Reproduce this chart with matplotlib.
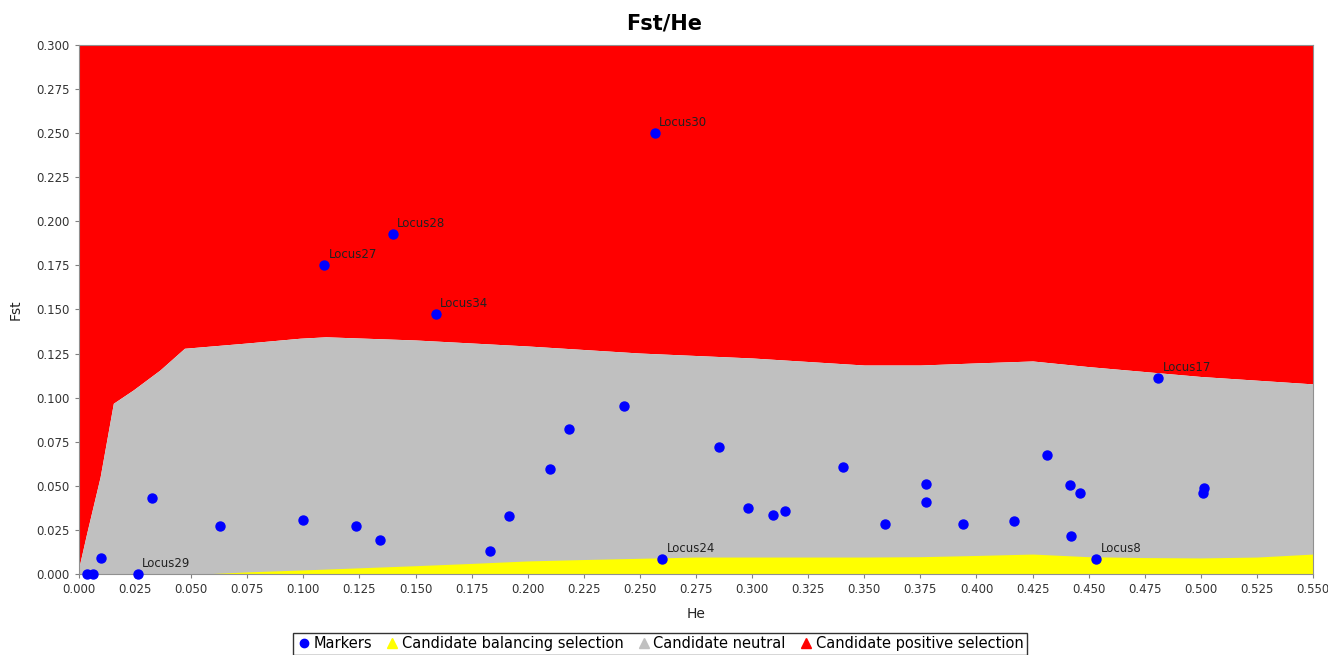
import matplotlib
matplotlib.use("Agg")
import matplotlib.pyplot as plt
from matplotlib.lines import Line2D

# Markers (He, Fst)
he = [0.0034, 0.0064, 0.0098, 0.0261, 0.0327, 0.0628, 0.0997, 0.1093, 0.1233,
      0.1342, 0.1398, 0.1590, 0.1833, 0.1915, 0.2098, 0.2184, 0.2428, 0.2567,
      0.2600, 0.2851, 0.2983, 0.3095, 0.3146, 0.3405, 0.3592, 0.3774, 0.3776,
      0.3941, 0.4166, 0.4314, 0.4415, 0.4422, 0.4463, 0.4535, 0.4811, 0.5011,
      0.5016]
fst = [0.0, 0.0, 0.0092, 0.0, 0.0433, 0.0272, 0.0306, 0.1753, 0.0272,
       0.0193, 0.1928, 0.1473, 0.0129, 0.0329, 0.0597, 0.0821, 0.0955, 0.2500,
       0.0087, 0.0719, 0.0376, 0.0333, 0.0357, 0.0605, 0.0284, 0.0510, 0.0408,
       0.0285, 0.0302, 0.0675, 0.0503, 0.0217, 0.0461, 0.0087, 0.1110, 0.0458,
       0.0490]
names = {3: "Locus29", 7: "Locus27", 10: "Locus28", 11: "Locus34", 17: "Locus30",
         18: "Locus24", 33: "Locus8", 34: "Locus17"}

# Upper neutral boundary
up_x = [0.0, 0.0034, 0.0094, 0.0153, 0.0242, 0.0361, 0.047, 0.075, 0.0985,
        0.11, 0.15, 0.2, 0.25, 0.3, 0.35, 0.375, 0.4, 0.425, 0.45, 0.475,
        0.5, 0.55]
up_y = [0.004, 0.023, 0.055, 0.0968, 0.1044, 0.1157, 0.128, 0.131, 0.1337,
        0.1345, 0.1327, 0.1293, 0.1253, 0.1225, 0.1185, 0.1185, 0.1197, 0.1208,
        0.1176, 0.1148, 0.112, 0.1078]

# Lower neutral boundary
lo_x = [0.0, 0.055, 0.075, 0.1, 0.125, 0.15, 0.175, 0.2, 0.225, 0.25, 0.275,
        0.3, 0.325, 0.35, 0.375, 0.4, 0.425, 0.45, 0.475, 0.5, 0.525, 0.55]
lo_y = [0.0, 0.0, 0.0012, 0.0023, 0.0035, 0.0047, 0.006, 0.0074, 0.0082,
        0.0089, 0.0096, 0.0096, 0.0096, 0.0096, 0.0098, 0.0105, 0.0113, 0.0098,
        0.0093, 0.0091, 0.0096, 0.0113]

fig = plt.figure(figsize=(13.28, 6.55), dpi=100)
ax = fig.add_axes([0.0595, 0.1237, 0.9292, 0.8076])

ax.fill_between(up_x, up_y, 0.3, color="#ff0000", lw=0)
ax.fill_between(up_x, 0, up_y, color="#c0c0c0", lw=0)
ax.fill_between(lo_x, 0, lo_y, color="#ffff00", lw=0)

ax.scatter(he, fst, s=42, color="#0000ff", zorder=3, clip_on=False)
for i, n in names.items():
    ax.annotate(n, (he[i], fst[i]), xytext=(3, 5), textcoords="offset points",
                fontsize=8.5, color="#222222", zorder=4)

ax.set_xlim(0, 0.55)
ax.set_ylim(0, 0.3)
ax.set_xticks([i * 0.025 for i in range(23)])
ax.set_yticks([i * 0.025 for i in range(13)])
ax.xaxis.set_major_formatter(plt.FormatStrFormatter("%.3f"))
ax.yaxis.set_major_formatter(plt.FormatStrFormatter("%.3f"))
ax.tick_params(labelsize=8.5, colors="#808080", labelcolor="#333333", length=3)
for s in ax.spines.values():
    s.set_color("#909090")

ax.set_xlabel("He", fontsize=10, color="#222222", labelpad=8)
ax.set_ylabel("Fst", fontsize=10, color="#222222", labelpad=10)
fig.suptitle("Fst/He", fontsize=15, fontweight="bold", y=0.98)

handles = [
    Line2D([], [], marker="o", ls="", color="#0000ff", markersize=6),
    Line2D([], [], marker="^", ls="", color="#ffff00", markersize=7),
    Line2D([], [], marker="^", ls="", color="#c0c0c0", markersize=7),
    Line2D([], [], marker="^", ls="", color="#ff0000", markersize=7),
]
labels = ["Markers", "Candidate balancing selection", "Candidate neutral",
          "Candidate positive selection"]
leg = fig.legend(handles, labels, loc="lower center", bbox_to_anchor=(0.497, 0.0),
                 ncol=4, fontsize=10.5, frameon=True, fancybox=False,
                 handletextpad=0.15, columnspacing=0.9, handlelength=1.0,
                 borderpad=0.25, borderaxespad=0)
leg.get_frame().set_edgecolor("#000000")
leg.get_frame().set_linewidth(1.0)

fig.savefig("out.png", dpi=100)
